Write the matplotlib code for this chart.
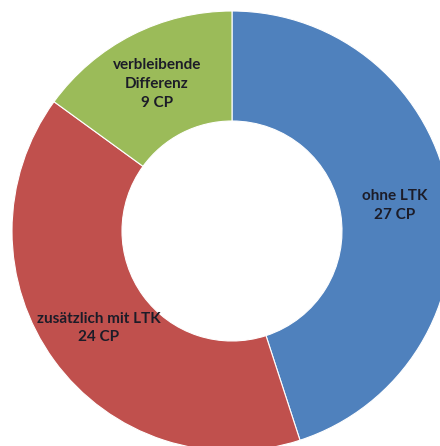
import matplotlib.pyplot as plt

# data
labels = ["ohne LTK\n27 CP", "zusätzlich mit LTK\n24 CP", "verbleibende\nDifferenz\n9 CP"]
values = [27, 24, 9]
colors = ["#4F81BD", "#C0504D", "#9BBB59"]

fig = plt.figure(figsize=(4.40, 4.46), dpi=100)
# circle radius ~220 px, centre at (232, 231) from top-left, clipped on right/bottom
ax = fig.add_axes([12 / 440, (446 - 451) / 446, 440 / 440, 440 / 446])

wedges, texts = ax.pie(values, labels=labels, colors=colors, startangle=90,
                       counterclock=False, radius=1.0, labeldistance=0.75,
                       wedgeprops=dict(width=0.5, edgecolor="white", linewidth=0.8),
                       textprops=dict(fontsize=11, fontweight="bold",
                                      color="#1c1c28", family=["Lato", "DejaVu Sans"]))
for t in texts:
    t.set_ha("center")
    t.set_va("center")
    t.set_linespacing(1.45)

ax.set_xlim(-1, 1)
ax.set_ylim(-1, 1)
ax.set_aspect("auto")
ax.axis("off")

plt.savefig("out.png", dpi=100)
